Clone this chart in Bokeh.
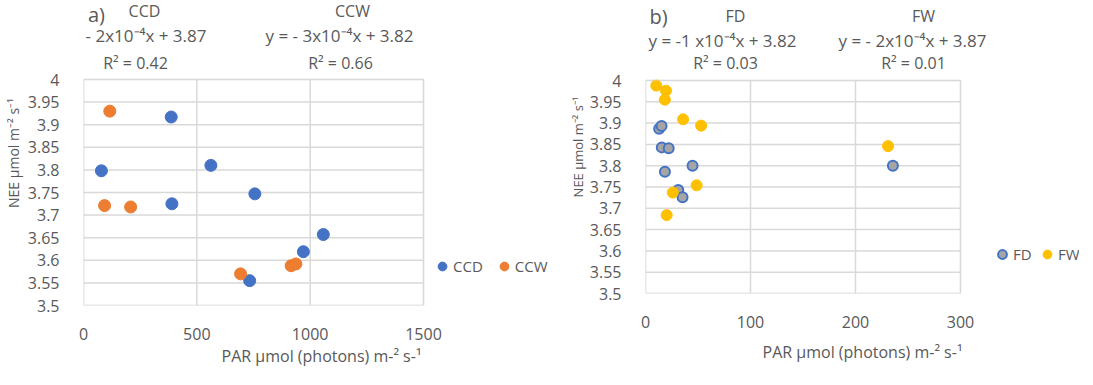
from bokeh.plotting import figure
from bokeh.models import Legend, LegendItem, FixedTicker, Label, BoxAnnotation
from bokeh.layouts import row
from bokeh.embed import file_html
from bokeh.resources import INLINE

# ---------------- data ----------------
ccd_par = [387, 79, 562, 390, 756, 1058, 970, 733]
ccd_nee = [3.917, 3.798, 3.810, 3.725, 3.747, 3.657, 3.619, 3.555]
ccw_par = [116, 93, 208, 693, 916, 937]
ccw_nee = [3.930, 3.721, 3.718, 3.570, 3.588, 3.592]

fd_par = [13.0, 15.3, 15.5, 22.1, 18.5, 44.8, 31.2, 35.3, 235.6]
fd_nee = [3.887, 3.893, 3.843, 3.841, 3.786, 3.800, 3.743, 3.726, 3.800]
fw_par = [10.3, 19.5, 18.4, 35.8, 53.0, 231.0, 48.7, 26.0, 20.2]
fw_nee = [3.988, 3.976, 3.955, 3.909, 3.894, 3.846, 3.754, 3.737, 3.684]

y_ticks = [3.5, 3.55, 3.6, 3.65, 3.7, 3.75, 3.8, 3.85, 3.9, 3.95, 4.0]
y_tick_labels = ["3.5", "3.55", "3.6", "3.65", "3.7", "3.75", "3.8", "3.85", "3.9", "3.95", "4"]
xa_ticks = [0, 500, 1000, 1500]
xb_ticks = [0, 100, 200, 300]

title_a = ["a)", "CCD", "y = - 2x10\u207b\u2074x + 3.87", "R\u00b2 = 0.42",
           "CCW", "y = - 3x10\u207b\u2074x + 3.82", "R\u00b2 = 0.66"]
title_b = ["b)", "FD", "y = -1 x10\u207b\u2074x + 3.82", "R\u00b2 = 0.03",
           "FW", "y = - 2x10\u207b\u2074x + 3.87", "R\u00b2 = 0.01"]

x_label = "PAR \u00b5mol (photons) m-\u00b2 s-\u00b9"
y_label = "NEE \u00b5mol m\u207b\u00b2 s\u207b\u00b9"

FONT = "Open Sans"
TXT = "#595959"
GRID = "#d9d9d9"
BLUE = "#4472C4"
ORANGE = "#ED7D31"
GOLD = "#FFC000"
GRAY = "#A5A5A5"
TITLE_SIZES = ["20px", "16px", "17px", "16px", "16px", "17px", "16px"]


class Panel:
    """Layout helper: page-pixel geometry of one chart panel."""

    def __init__(self, xmax, canvas_left, canvas_right, plot_left, plot_right,
                 plot_top, plot_bottom, canvas_top=8, canvas_bottom=377):
        self.xmax = xmax
        self.plot_left = plot_left
        self.plot_bottom = plot_bottom
        self.xs = xmax / (plot_right - plot_left)          # data per px
        self.ys = 0.5 / (plot_bottom - plot_top)
        self.border_left = plot_left - canvas_left
        self.border_bottom = canvas_bottom - plot_bottom
        self.frame_w = canvas_right - plot_left
        self.frame_h = plot_bottom - canvas_top
        self.x_end = (canvas_right - plot_left) * self.xs
        self.y_end = 3.5 + (plot_bottom - canvas_top) * self.ys

    def data(self, px, py):
        return (px - self.plot_left) * self.xs, 3.5 + (self.plot_bottom - py) * self.ys


def make_fig(g, xticks):
    p = figure(output_backend="svg", toolbar_location=None,
               frame_width=g.frame_w, frame_height=g.frame_h,
               min_border_left=g.border_left, min_border_right=0,
               min_border_top=0, min_border_bottom=g.border_bottom,
               x_range=(0, g.x_end), y_range=(3.5, g.y_end))
    p.outline_line_color = None
    p.xgrid.visible = False
    p.ygrid.visible = False
    for ax in (p.xaxis[0], p.yaxis[0]):
        ax.axis_line_color = None
        ax.major_tick_line_color = None
        ax.minor_tick_line_color = None
        ax.major_label_text_font = FONT
        ax.major_label_text_color = TXT
        ax.major_label_text_font_size = "16px"
        ax.axis_label_text_font = FONT
        ax.axis_label_text_color = TXT
        ax.axis_label_text_font_style = "normal"
    p.xaxis[0].major_label_standoff = 16
    p.yaxis[0].major_label_standoff = 18
    p.xaxis[0].ticker = FixedTicker(ticks=xticks)
    p.yaxis[0].ticker = FixedTicker(ticks=y_ticks)
    p.xaxis[0].bounds = (0, g.xmax)
    p.yaxis[0].bounds = (3.5, 4.0)
    p.yaxis[0].major_label_overrides = {t: l for t, l in zip(y_ticks, y_tick_labels)}
    p.xaxis[0].axis_label = x_label
    p.yaxis[0].axis_label = y_label
    # grid lines drawn through the data scales, only over the plot area
    p.segment(x0=[0] * len(y_ticks), x1=[g.xmax] * len(y_ticks),
              y0=y_ticks, y1=y_ticks, line_color=GRID, line_width=1.5)
    p.segment(x0=xticks, x1=xticks, y0=[3.5] * len(xticks), y1=[4.0] * len(xticks),
              line_color=GRID, line_width=1.5)
    p.add_layout(BoxAnnotation(left=0, right=g.xmax, bottom=3.5, top=4.0,
                               fill_alpha=0, line_color=GRID, line_width=1.5))
    return p


def add_titles(p, g, texts, pos):
    for t, (px, py), s in zip(texts, pos, TITLE_SIZES):
        x, y = g.data(px, py)
        p.add_layout(Label(x=x, y=y, text=t, text_align="center",
                           text_baseline="middle", text_font=FONT,
                           text_font_size=s, text_color=TXT))


def make_legend(items, loc, spacing):
    return Legend(items=items, orientation="horizontal", location=loc,
                  glyph_width=22, glyph_height=22, label_standoff=0,
                  spacing=spacing, padding=0, margin=0,
                  border_line_color=None, background_fill_alpha=0,
                  label_text_font=FONT, label_text_font_size="15px",
                  label_text_color=TXT)


# ---------------- panel a ----------------
ga = Panel(1500, 8, 560, 84, 424, 87, 313)
pa = make_fig(ga, xa_ticks)
pa.xaxis[0].axis_label_text_font_size = "16px"
pa.xaxis[0].axis_label_standoff = 2
pa.yaxis[0].axis_label_text_font_size = "14px"
pa.yaxis[0].axis_label_standoff = 2
r1 = pa.scatter(ccd_par, ccd_nee, size=12, color=BLUE)
r2 = pa.scatter(ccw_par, ccw_nee, size=12, color=ORANGE)
pa.add_layout(make_legend([LegendItem(label="CCD", renderers=[r1]),
                           LegendItem(label="CCW", renderers=[r2])],
                          (348, 28), 10), "center")
add_titles(pa, ga, title_a,
           [(97, 22), (145, 18), (133, 43), (136, 70),
            (353, 18), (340, 43), (341, 70)])

# ---------------- panel b ----------------
gb = Panel(300, 560, 1080, 646, 961, 88, 301)
pb = make_fig(gb, xb_ticks)
pb.xaxis[0].axis_label_text_font_size = "16px"
pb.xaxis[0].axis_label_standoff = 10
pb.yaxis[0].axis_label_text_font_size = "13px"
pb.yaxis[0].axis_label_standoff = 0
r3 = pb.scatter(fd_par, fd_nee, size=10, fill_color=GRAY, line_color=BLUE, line_width=2)
r4 = pb.scatter(fw_par, fw_nee, size=11, color=GOLD)
pb.add_layout(make_legend([LegendItem(label="FD", renderers=[r3]),
                           LegendItem(label="FW", renderers=[r4])],
                          (346, 28), 3), "center")
add_titles(pb, gb, title_b,
           [(659, 24), (736, 23), (723, 48), (726, 70),
            (924, 23), (913, 48), (914, 70)])

layout = row(pa, pb)
open("out.html", "w").write(file_html(layout, INLINE))
